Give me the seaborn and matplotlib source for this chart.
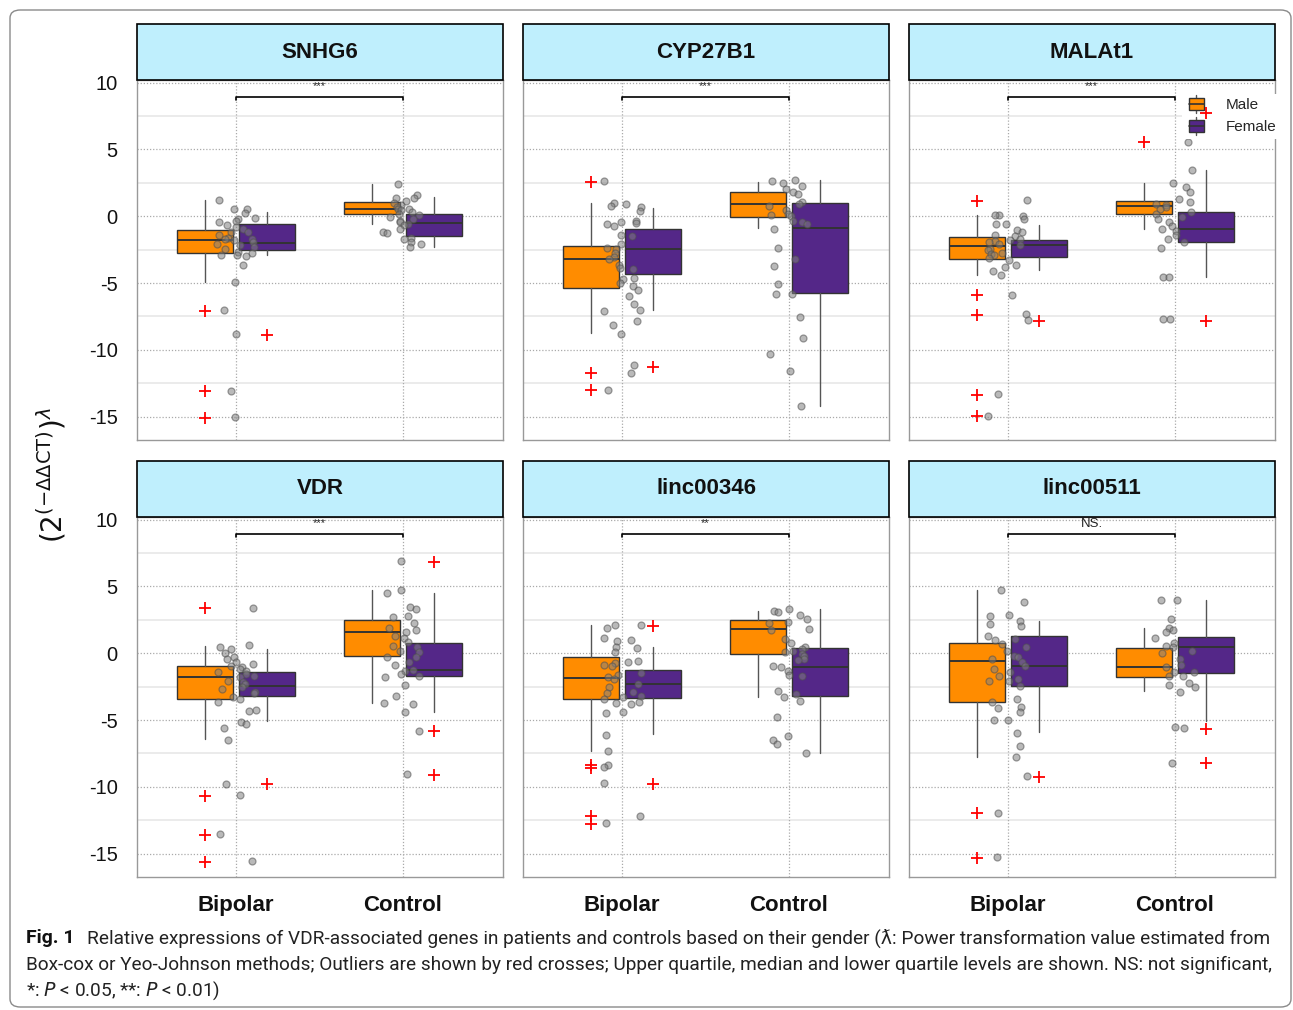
import numpy as np
import pandas as pd
import matplotlib
matplotlib.use("Agg")
import matplotlib.pyplot as plt
import seaborn as sns
from matplotlib.patches import Rectangle, Patch, FancyBboxPatch
from matplotlib.lines import Line2D
from matplotlib.legend_handler import HandlerBase

# ---- data ----
genes = ["SNHG6", "CYP27B1", "MALAt1", "VDR", "linc00346", "linc00511"]
groups = ["Bipolar", "Control"]
sig = ["***", "***", "***", "***", "**", "NS."]

# box stats per box: [whislo, q1, med, q3, whishi]
# box order: Male-Bipolar, Female-Bipolar, Male-Control, Female-Control
box_snhg6 = [[-4.9, -2.72, -1.77, -1.02, 1.25], [-2.87, -2.54, -1.97, -0.55, 0.3],
             [-0.57, 0.17, 0.57, 1.07, 2.42], [-2.27, -1.5, -0.47, 0.17, 1.47]]
fliers_snhg6 = [[-7.06, -13.1, -15.07], [-8.86], [], []]
bip_snhg6 = [1.25, 0.57, 0.52, 0.27, -0.12, -0.17, -0.32, -0.42, -0.65, -0.8, -0.92, -1.17,
             -1.17, -1.42, -1.62, -1.67, -1.72, -1.8, -1.92, -2.05, -2.17, -2.3, -2.42, -2.67,
             -2.74, -2.87, -2.92, -3.0, -3.67, -4.94, -6.99, -8.81, -13.05, -15.0]
ctl_snhg6 = [2.42, 1.57, 1.4, 1.37, 1.12, 1.0, 0.82, 0.7, 0.57, 0.52, 0.45, 0.32, 0.2, 0.07,
             -0.05, -0.17, -0.32, -0.42, -0.6, -0.67, -0.92, -1.17, -1.22, -1.62, -1.72,
             -1.92, -2.05, -2.27]

box_cyp = [[-8.73, -5.34, -3.19, -2.2, 1.02], [-6.99, -4.29, -2.45, -0.97, 0.65],
           [-0.87, -0.05, 0.9, 1.82, 2.59], [-14.2, -5.71, -0.85, 1.02, 2.74]]
fliers_cyp = [[2.59, -11.75, -13.02], [-11.25], [], []]
bip_cyp = [2.64, 1.0, 0.95, 0.77, 0.67, 0.37, -0.32, -0.45, -0.5, -0.55, -0.7, -1.37, -1.47,
           -2.07, -2.35, -2.45, -2.74, -3.04, -3.22, -3.62, -3.87, -3.95, -4.59, -4.69, -4.97,
           -5.24, -5.49, -5.96, -6.54, -7.04, -7.11, -7.86, -8.11, -8.78, -11.15, -11.73, -13.0]
ctl_cyp = [2.74, 2.62, 2.52, 2.27, 2.07, 1.82, 1.7, 1.07, 0.95, 0.77, 0.45, 0.2, 0.07, 0.0,
           -0.32, -0.42, -0.55, -0.97, -2.4, -3.17, -3.72, -5.09, -5.79, -5.85, -7.53, -9.08,
           -10.3, -11.55, -14.22]

box_malat = [[-4.39, -3.19, -2.2, -1.55, 0.07], [-4.02, -3.07, -2.15, -1.8, -0.62],
             [-0.95, 0.17, 0.8, 1.15, 2.5], [-4.54, -1.92, -0.92, 0.35, 3.47]]
fliers_malat = [[1.15, -5.89, -7.41, -13.35, -14.92], [-7.83], [5.54], [7.73, -7.81]]
bip_malat = [1.22, 0.12, 0.07, 0.02, -0.17, -0.55, -0.6, -1.0, -1.17, -1.37, -1.47, -1.67,
             -1.77, -1.85, -1.92, -2.05, -2.17, -2.42, -2.54, -2.74, -2.8, -2.92, -3.12,
             -3.29, -3.67, -3.79, -4.07, -4.42, -5.86, -7.34, -7.73, -13.32, -14.92]
ctl_malat = [5.56, 3.47, 2.52, 2.17, 1.82, 1.32, 1.07, 0.95, 0.82, 0.7, 0.57, 0.32, 0.2,
             -0.05, -0.17, -0.42, -0.75, -0.97, -1.1, -1.42, -1.72, -1.92, -2.4, -4.57,
             -4.57, -7.71, -7.71]

box_vdr = [[-6.42, -3.4, -1.77, -0.95, 0.55], [-5.09, -3.2, -2.47, -1.42, 0.32],
           [-3.75, -0.2, 1.6, 2.5, 4.72], [-4.37, -1.7, -1.27, 0.77, 4.52]]
fliers_vdr = [[3.37, -10.69, -13.64, -15.6], [-9.82], [], [6.84, -5.82, -9.09]]
bip_vdr = [3.4, 0.6, 0.45, 0.32, 0.05, -0.25, -0.42, -0.67, -0.8, -0.92, -1.05, -1.17, -1.3,
           -1.42, -1.55, -1.67, -1.8, -2.05, -2.17, -2.3, -2.55, -2.67, -2.87, -3.0, -3.3,
           -3.42, -3.67, -4.25, -4.3, -5.12, -5.29, -5.59, -6.47, -9.79, -10.59, -13.54, -15.56]
ctl_vdr = [6.92, 4.72, 4.52, 3.45, 3.3, 2.82, 2.7, 2.25, 1.9, 1.75, 1.57, 1.32, 1.15, 0.82,
           0.57, 0.45, 0.2, 0.07, -0.25, -0.3, -0.67, -0.85, -1.25, -1.3, -1.55, -1.67, -1.8,
           -2.35, -3.17, -3.7, -3.8, -4.4, -5.79, -9.04]

box_l346 = [[-7.29, -3.45, -1.87, -0.25, 2.12], [-6.07, -3.37, -2.32, -1.27, 0.45],
            [-3.27, -0.05, 1.82, 2.5, 3.2], [-7.47, -3.2, -1.0, 0.42, 3.3]]
fliers_l346 = [[-8.37, -8.62, -12.19, -12.76], [2.05, -9.82], [], []]
bip_l346 = [2.15, 2.1, 1.92, 1.12, 0.97, 0.9, 0.5, 0.4, 0.07, -0.55, -0.67, -0.75, -0.85,
            -0.92, -1.5, -1.6, -1.8, -1.92, -2.3, -2.55, -2.92, -3.0, -3.17, -3.3, -3.42,
            -3.62, -3.75, -3.8, -4.37, -4.5, -6.09, -7.29, -8.34, -8.54, -9.72, -12.16, -12.74]
ctl_l346 = [3.3, 3.2, 3.12, 2.9, 2.57, 2.32, 2.25, 1.82, 1.75, 1.07, 0.75, 0.5, 0.32, 0.2,
            0.07, -0.05, -0.2, -0.42, -0.5, -0.92, -1.05, -1.3, -1.6, -1.67, -2.8, -3.05,
            -3.3, -3.6, -4.8, -6.19, -6.49, -6.79, -7.49]

box_l511 = [[-7.74, -3.67, -0.55, 0.75, 4.75], [-5.92, -2.45, -0.95, 1.32, 2.42],
            [-2.85, -1.77, -1.0, 0.42, 1.9], [-5.04, -1.47, 0.47, 1.22, 4.0]]
fliers_l511 = [[-11.96, -15.33], [-9.29], [], [-5.64, -8.22]]
bip_l511 = [4.77, 3.87, 2.85, 2.8, 2.45, 2.2, 2.07, 1.3, 1.07, 1.0, 0.7, 0.45, 0.2, -0.17,
            -0.3, -0.45, -0.67, -0.92, -1.17, -1.42, -1.67, -1.92, -2.05, -2.1, -2.42, -3.42,
            -3.67, -4.05, -4.12, -4.42, -5.0, -5.0, -5.94, -6.92, -7.79, -9.22, -11.94, -15.23]
ctl_l511 = [4.02, 4.02, 2.55, 1.9, 1.75, 1.6, 1.12, 0.8, 0.57, 0.45, 0.2, 0.0, -0.42, -0.85,
            -1.05, -1.37, -1.42, -1.67, -1.72, -2.25, -2.35, -2.5, -2.87, -5.49, -5.59, -8.22]

panels = {
    "SNHG6": (box_snhg6, fliers_snhg6, bip_snhg6, ctl_snhg6),
    "CYP27B1": (box_cyp, fliers_cyp, bip_cyp, ctl_cyp),
    "MALAt1": (box_malat, fliers_malat, bip_malat, ctl_malat),
    "VDR": (box_vdr, fliers_vdr, bip_vdr, ctl_vdr),
    "linc00346": (box_l346, fliers_l346, bip_l346, ctl_l346),
    "linc00511": (box_l511, fliers_l511, bip_l511, ctl_l511),
}

caption = [
    "Relative expressions of VDR-associated genes in patients and controls based on their gender "
    "(\u019b: Power transformation value estimated from",
    "Box-cox or Yeo-Johnson methods; Outliers are shown by red crosses; Upper quartile, median "
    "and lower quartile levels are shown. NS: not significant,",
    r"*: $\it{P}$ < 0.05, **: $\it{P}$ < 0.01)",
]

male_col = "#FF8C00"
female_col = "#542788"


class BoxHandler(HandlerBase):
    def create_artists(self, legend, orig_handle, xdescent, ydescent, width, height, fontsize, trans):
        w = width * 0.75
        x0 = -xdescent + (width - w) / 2
        y0 = -ydescent
        xc = x0 + w / 2
        whisk = Line2D([xc, xc], [y0 - height * 0.25, y0 + height * 1.25], color="#555555", lw=1, transform=trans)
        rect = Rectangle((x0, y0), w, height, facecolor=orig_handle.get_facecolor(),
                         edgecolor="#333333", lw=1, transform=trans)
        med = Line2D([x0, x0 + w], [y0 + height / 2] * 2, color="#333333", lw=1.2, transform=trans)
        return [whisk, rect, med]


sns.set_theme(style="white")
plt.rcParams["font.family"] = ["Liberation Sans", "DejaVu Sans"]
np.random.seed(7)

W, H = 1293, 1010
fig = plt.figure(figsize=(W / 100, H / 100), dpi=100)

col_x = [137, 523, 909]
row_y = [80, 517]
ax_w, ax_h = 366, 360
strip_h = 56

for i, gene in enumerate(genes):
    r, c = divmod(i, 3)
    x0, y0 = col_x[c], row_y[r]
    ax = fig.add_axes([x0 / W, 1 - (y0 + ax_h) / H, ax_w / W, ax_h / H])
    box, fliers, bip, ctl = panels[gene]

    # grid
    for v in [-12.5, -7.5, -2.5, 2.5, 7.5]:
        ax.axhline(v, color="#e8e8e8", lw=1.2, zorder=0.5)
    for v in [-15, -10, -5, 0, 5, 10]:
        ax.axhline(v, color="#aaaaaa", lw=0.9, ls=(0, (1, 1.5)), zorder=0.6)
    for v in [0, 1]:
        ax.axvline(v, color="#aaaaaa", lw=0.9, ls=(0, (1, 1.5)), zorder=0.6)

    stats = []
    for b, fl in zip(box, fliers):
        stats.append(dict(whislo=b[0], q1=b[1], med=b[2], q3=b[3], whishi=b[4], fliers=fl))
    bp = ax.bxp(stats, positions=[-0.185, 0.185, 0.815, 1.185], widths=0.335,
                patch_artist=True, showcaps=False, manage_ticks=False,
                boxprops=dict(edgecolor="#333333", lw=1),
                medianprops=dict(color="#333333", lw=1.4),
                whiskerprops=dict(color="#555555", lw=1),
                flierprops=dict(marker="+", markeredgecolor="red", markersize=8, mew=1.3))
    for k, patch in enumerate(bp["boxes"]):
        patch.set_facecolor(male_col if k % 2 == 0 else female_col)
        patch.set_zorder(2)
    for f in bp["fliers"]:
        f.set_zorder(7)

    df = pd.DataFrame({"group": ["Bipolar"] * len(bip) + ["Control"] * len(ctl),
                       "value": bip + ctl})
    sns.stripplot(data=df, x="group", y="value", order=groups, ax=ax, color="#808080",
                  alpha=0.55, size=5, jitter=0.12, linewidth=0.9, edgecolor="#505050", zorder=4)

    # significance bracket
    ax.plot([0, 0, 1, 1], [8.7, 8.95, 8.95, 8.7], color="black", lw=1.2, zorder=5)
    ax.text(0.5, 9.75 if sig[i] != "NS." else 9.65, sig[i], ha="center", va="center",
            fontsize=8 if sig[i] != "NS." else 9.5, color="#222222", zorder=5)

    ax.set_xlim(-0.593, 1.599)
    ax.set_ylim(-16.75, 10.2)
    ax.set_xlabel("")
    ax.set_ylabel("")
    ax.set_yticks([-15, -10, -5, 0, 5, 10])
    ax.set_yticklabels(["-15", "-10", "-5", "0", "5", "10"])
    ax.set_xticks([0, 1])
    ax.set_xticklabels(groups, fontweight="bold")
    ax.tick_params(axis="y", length=6 if c == 0 else 0, width=2, color="black",
                   labelsize=14.5, labelleft=(c == 0), pad=8, labelcolor="#111111")
    ax.tick_params(axis="x", length=6 if r == 1 else 0, width=2, color="black",
                   labelsize=16, labelbottom=(r == 1), pad=7, labelcolor="#111111")
    for s in ax.spines.values():
        s.set_color("#999999")
        s.set_linewidth(1)

    # strip header
    ax.add_patch(Rectangle((0, 1), 1, strip_h / ax_h, transform=ax.transAxes, clip_on=False,
                           facecolor="#BFEFFD", edgecolor="black", lw=1.2, zorder=10))
    ax.text(0.5, 1 + (strip_h / 2) / ax_h, gene, transform=ax.transAxes, ha="center",
            va="center", fontsize=16, fontweight="bold", color="#111111", zorder=11)

    if gene == "MALAt1":
        handles = [Patch(facecolor=male_col), Patch(facecolor=female_col)]
        leg = ax.legend(handles, ["Male", "Female"], handler_map={Patch: BoxHandler()},
                        loc="upper left", bbox_to_anchor=(0.745, 0.962), fontsize=11,
                        frameon=True, facecolor="white", edgecolor="none", framealpha=1,
                        handlelength=1.3, handleheight=0.8, handletextpad=1.3,
                        labelspacing=0.5, borderpad=0.3, borderaxespad=0.0)
        leg.set_zorder(6)

# y-axis label
fig.text(52 / W, 1 - 475 / H, r"$\left(2^{\left(-\Delta\Delta\mathrm{CT}\right)}\right)^{\lambda}$",
         rotation=90, ha="center", va="center", fontsize=20, color="#111111")

# caption: fit font size so line 1 spans the same width as in the source
cap_font = ["Roboto", "DejaVu Sans"]
fig_txt = fig.text(87 / W, 1 - 938 / H, caption[0], fontsize=13, va="center",
                   family=cap_font, color="#222222")
fig.canvas.draw()
w_px = fig_txt.get_window_extent(fig.canvas.get_renderer()).width
cap_size = 13 * (1178 / w_px)
fig_txt.set_fontsize(cap_size)
fig.text(26 / W, 1 - 938 / H, "Fig. 1", fontweight="bold", fontsize=cap_size * 1.02,
         va="center", family=cap_font, color="#111111")
fig.text(26 / W, 1 - 965 / H, caption[1], fontsize=cap_size, va="center",
         family=cap_font, color="#222222")
fig.text(26 / W, 1 - 991 / H, caption[2], fontsize=cap_size, va="center",
         family=cap_font, color="#222222")

# outer frame
fig.patches.append(FancyBboxPatch((10 / W, 1 - 1007 / H), 1281 / W, 997 / H,
                                  boxstyle="round,pad=0,rounding_size=0.008",
                                  transform=fig.transFigure, fill=False,
                                  edgecolor="#8a8a8a", lw=1))

fig.savefig("out.png", dpi=100)
